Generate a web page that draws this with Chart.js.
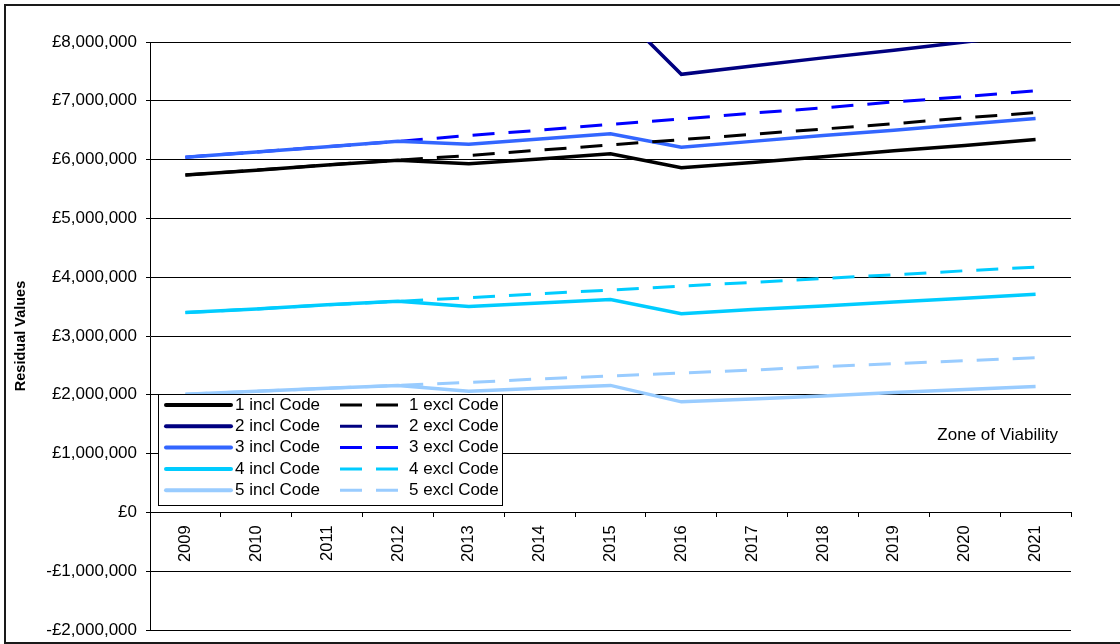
<!DOCTYPE html>
<html>
<head>
<meta charset="utf-8">
<script src="https://cdn.jsdelivr.net/npm/chart.js@4/dist/chart.umd.min.js"></script>
<style>
  html, body { margin: 0; padding: 0; background: #fff; }
  #wrap { position: relative; width: 1120px; height: 644px; }
  canvas { display: block; }
</style>
</head>
<body>
<div id="wrap"><canvas id="c" width="1120" height="644"></canvas></div>
<script>
// Years on the category axis
const years = ['2009','2010','2011','2012','2013','2014','2015','2016','2017','2018','2019','2020','2021'];

// Residual values (£) per scenario, including and excluding the Code
const incl1 = [5.74e6, 5.82e6, 5.91e6, 5.99e6, 5.93e6, 6.01e6, 6.10e6, 5.86e6, 5.95e6, 6.05e6, 6.15e6, 6.24e6, 6.34e6];
const excl1 = [5.74e6, 5.82e6, 5.91e6, 5.99e6, 6.07e6, 6.16e6, 6.25e6, 6.34e6, 6.43e6, 6.52e6, 6.61e6, 6.71e6, 6.80e6];
const incl2 = [8.25e6, 8.38e6, 8.50e6, 8.62e6, 8.55e6, 8.60e6, 8.65e6, 7.45e6, 7.59e6, 7.73e6, 7.86e6, 8.00e6, 8.14e6];
const excl2 = [8.25e6, 8.38e6, 8.50e6, 8.62e6, 8.76e6, 8.90e6, 9.04e6, 9.18e6, 9.32e6, 9.46e6, 9.60e6, 9.74e6, 9.88e6];
const incl3 = [6.04e6, 6.13e6, 6.22e6, 6.31e6, 6.26e6, 6.35e6, 6.44e6, 6.21e6, 6.31e6, 6.41e6, 6.50e6, 6.60e6, 6.70e6];
const excl3 = [6.04e6, 6.13e6, 6.22e6, 6.31e6, 6.41e6, 6.50e6, 6.60e6, 6.69e6, 6.79e6, 6.88e6, 6.98e6, 7.07e6, 7.17e6];
const incl4 = [3.40e6, 3.46e6, 3.53e6, 3.59e6, 3.50e6, 3.56e6, 3.62e6, 3.38e6, 3.45e6, 3.51e6, 3.58e6, 3.64e6, 3.71e6];
const excl4 = [3.40e6, 3.46e6, 3.53e6, 3.59e6, 3.65e6, 3.72e6, 3.78e6, 3.85e6, 3.91e6, 3.98e6, 4.04e6, 4.11e6, 4.17e6];
const incl5 = [2.01e6, 2.06e6, 2.11e6, 2.16e6, 2.06e6, 2.11e6, 2.16e6, 1.88e6, 1.93e6, 1.98e6, 2.04e6, 2.09e6, 2.14e6];
const excl5 = [2.01e6, 2.06e6, 2.11e6, 2.16e6, 2.21e6, 2.27e6, 2.32e6, 2.37e6, 2.42e6, 2.48e6, 2.53e6, 2.58e6, 2.63e6];

// Value axis range and step
const yMin = -2e6, yMax = 8e6, yStep = 1e6;

const FONT = '"Liberation Sans", Arial, sans-serif';
const DASH = [22, 14];

function solid(label, data, color) {
  return { label, data, borderColor: color, backgroundColor: color, borderWidth: 3.5,
           pointRadius: 0, tension: 0, clip: 0, borderCapStyle: 'butt', borderJoinStyle: 'miter' };
}
function dashed(label, data, color) {
  return { label, data, borderColor: color, backgroundColor: color, borderWidth: 3,
           borderDash: DASH, pointRadius: 0, tension: 0, clip: 0, borderCapStyle: 'butt' };
}

const datasets = [
  solid('1 incl Code', incl1, '#000000'),  dashed('1 excl Code', excl1, '#000000'),
  solid('2 incl Code', incl2, '#000080'),  dashed('2 excl Code', excl2, '#000080'),
  solid('3 incl Code', incl3, '#3366FF'),  dashed('3 excl Code', excl3, '#0000FF'),
  solid('4 incl Code', incl4, '#00CCFF'),  dashed('4 excl Code', excl4, '#00CCFF'),
  solid('5 incl Code', incl5, '#99CCFF'),  dashed('5 excl Code', excl5, '#99CCFF')
];

function money(v) {
  const s = '£' + Math.abs(v).toLocaleString('en-GB');
  return v < 0 ? '-' + s : s;
}

// Outer frame of the chart object
const framePlugin = {
  id: 'frame',
  beforeDraw(chart) {
    const ctx = chart.ctx;
    ctx.save();
    ctx.fillStyle = '#fff';
    ctx.fillRect(0, 0, chart.width, chart.height);
    ctx.fillStyle = '#1a1a1a';
    ctx.fillRect(4, 4, chart.width - 4, 2);
    ctx.fillRect(4, 4, 2, chart.height - 4);
    ctx.fillRect(4, chart.height - 2, chart.width - 4, 2);
    ctx.restore();
  }
};

// Two-column legend box in the lower left of the plot, plus the zone note
const boxLegendPlugin = {
  id: 'boxLegend',
  afterDatasetsDraw(chart) {
    const ctx = chart.ctx;
    const ds = chart.data.datasets;
    const x0 = 158.5, y0 = 394.5, w = 344, h = 111;
    ctx.save();
    ctx.fillStyle = '#fff';
    ctx.fillRect(x0, y0, w, h);
    ctx.strokeStyle = '#000';
    ctx.lineWidth = 1;
    ctx.strokeRect(x0, y0, w, h);
    ctx.font = '17px ' + FONT;
    ctx.textBaseline = 'middle';
    ctx.fillStyle = '#000';
    for (let i = 0; i < ds.length; i++) {
      const row = Math.floor(i / 2), col = i % 2;
      const y = 405 + row * 21.3;
      const d = ds[i];
      ctx.beginPath();
      ctx.strokeStyle = d.borderColor;
      if (col === 0) {
        ctx.lineWidth = 4;
        ctx.lineCap = 'round';
        ctx.setLineDash([]);
        ctx.moveTo(166, y); ctx.lineTo(231, y);
        ctx.stroke();
        ctx.fillStyle = '#000';
        ctx.textAlign = 'left';
        ctx.fillText(d.label, 235, y);
      } else {
        ctx.lineWidth = 3;
        ctx.lineCap = 'butt';
        ctx.setLineDash(DASH);
        ctx.moveTo(340, y); ctx.lineTo(400, y);
        ctx.stroke();
        ctx.setLineDash([]);
        ctx.fillStyle = '#000';
        ctx.textAlign = 'left';
        ctx.fillText(d.label, 409, y);
      }
    }
    ctx.font = '17px ' + FONT;
    ctx.textAlign = 'right';
    ctx.fillStyle = '#000';
    ctx.fillText('Zone of Viability', 1058, 435);
    ctx.restore();
  }
};

new Chart(document.getElementById('c'), {
  type: 'line',
  data: { labels: years, datasets },
  plugins: [framePlugin, boxLegendPlugin],
  options: {
    responsive: false,
    animation: false,
    events: [],
    layout: { padding: { left: 0, top: 42, right: 49, bottom: 14 } },
    plugins: { legend: { display: false }, tooltip: { enabled: false }, title: { display: false } },
    scales: {
      x: {
        type: 'category',
        position: { y: 0 },
        offset: true,
        grid: { display: true, drawOnChartArea: false, drawTicks: true, tickLength: 4, offset: true, color: '#000', lineWidth: 1 },
        border: { display: true, color: '#000', width: 1 },
        ticks: { color: '#000', font: { family: FONT, size: 16.5 }, minRotation: 90, maxRotation: 90, padding: 9, autoSkip: false }
      },
      y: {
        min: yMin, max: yMax,
        afterFit(scale) {
          scale.width = 150;
          scale.paddingTop = 0;
          scale.paddingBottom = 0;
        },
        grid: { color: '#000', lineWidth: 1, drawTicks: true, tickLength: 4 },
        border: { display: true, color: '#000', width: 1 },
        ticks: { stepSize: yStep, color: '#000', padding: 9, font: { family: FONT, size: 17 }, callback: v => money(v) },
        title: { display: true, text: 'Residual Values', color: '#000', padding: { top: 12, bottom: 0 },
                 font: { family: FONT, size: 14.5, weight: 'bold' } }
      }
    }
  }
});
</script>
</body>
</html>
